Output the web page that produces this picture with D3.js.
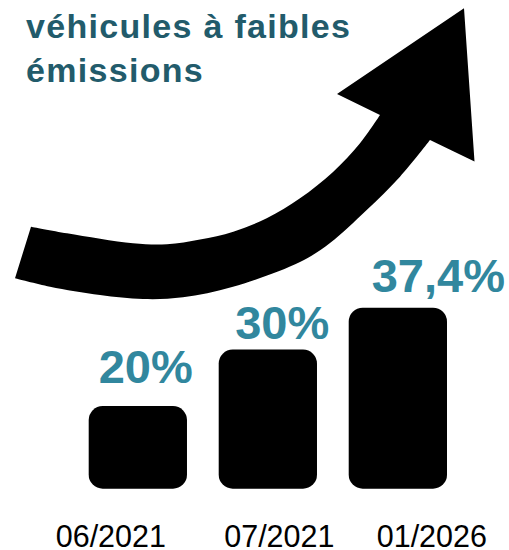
<!DOCTYPE html>
<html>
<head>
<meta charset="utf-8">
<script src="https://cdn.jsdelivr.net/npm/d3@7"></script>
<style>
  html, body { margin: 0; padding: 0; background: #fff; }
  svg { display: block; }
</style>
</head>
<body>
<svg id="chart" width="509" height="550"></svg>
<script>
// ---- data ----
const categories = ["06/2021", "07/2021", "01/2026"];
const values = [20, 30, 37.4];
const valueLabels = ["20%", "30%", "37,4%"];
const titleLines = ["véhicules à faibles", "émissions"];

// ---- layout ----
const svg = d3.select("#chart");
const titleColor = "#225b6b";
const labelColor = "#31879e";

const x = d3.scaleBand().domain(categories).range([88.7, 447]).paddingInner(0.244).paddingOuter(0);
const y = d3.scaleLinear().domain([5.4, 37.4]).range([488.7, 307.7]);

// Title
svg.append("g").selectAll("text").data(titleLines).join("text")
  .attr("x", 26)
  .attr("y", (d, i) => 38.3 + i * 43.4)
  .attr("font-family", "'Liberation Sans', Arial, sans-serif")
  .attr("font-weight", "bold")
  .attr("font-size", 34)
  .attr("letter-spacing", "1.3px")
  .attr("fill", titleColor)
  .text(d => d);

// Curved arrow (decoration)
const topEdge = [[31,226.7],[67,233.3],[133,243.3],[167,244.3],[200,239.5],[233.3,231.7],[266.7,218.3],[300,198.3],[333.3,171.7],[360,143.3],[380,115]];
const bottomEdge = [[430,140],[400,176.7],[366.7,210],[330,243],[300,262],[233,286.7],[183,297.3],[143,299],[100,295],[50,286.7],[15,278.3]];
const head = [[337,94],[464,8.3],[474.5,161.5]];
const curve = d3.line().curve(d3.curveCatmullRom.alpha(0.5));
const topPath = curve(topEdge);
const botPath = curve(bottomEdge).replace(/^M/, "L");
const headPath = head.map(p => "L" + p[0] + "," + p[1]).join("");
svg.append("path")
  .attr("d", topPath + headPath + botPath + "Z")
  .attr("fill", "#000");

// Bars
svg.append("g").selectAll("rect").data(values).join("rect")
  .attr("x", (d, i) => x(categories[i]))
  .attr("y", d => y(d))
  .attr("width", x.bandwidth())
  .attr("height", d => y.range()[0] - y(d))
  .attr("rx", 14).attr("ry", 14)
  .attr("fill", "#000");

// Value labels
const labelGap = [23, 11, 16];
svg.append("g").selectAll("text").data(values).join("text")
  .attr("x", (d, i) => x(categories[i]) + 10 + 6.5 * i)
  .attr("y", (d, i) => y(d) - labelGap[i])
  .attr("font-family", "'Liberation Sans', Arial, sans-serif")
  .attr("font-weight", "bold")
  .attr("font-size", 47)
  .attr("fill", labelColor)
  .text((d, i) => valueLabels[i]);

// Category labels
const catOffset = [-27, 11.5, 34];
svg.append("g").selectAll("text").data(categories).join("text")
  .attr("x", (d, i) => x(d) + x.bandwidth() / 2 + catOffset[i])
  .attr("y", 546.5)
  .attr("text-anchor", "middle")
  .attr("font-family", "'Liberation Sans', Arial, sans-serif")
  .attr("font-size", 30.5)
  .attr("fill", "#000")
  .text(d => d);
</script>
</body>
</html>
